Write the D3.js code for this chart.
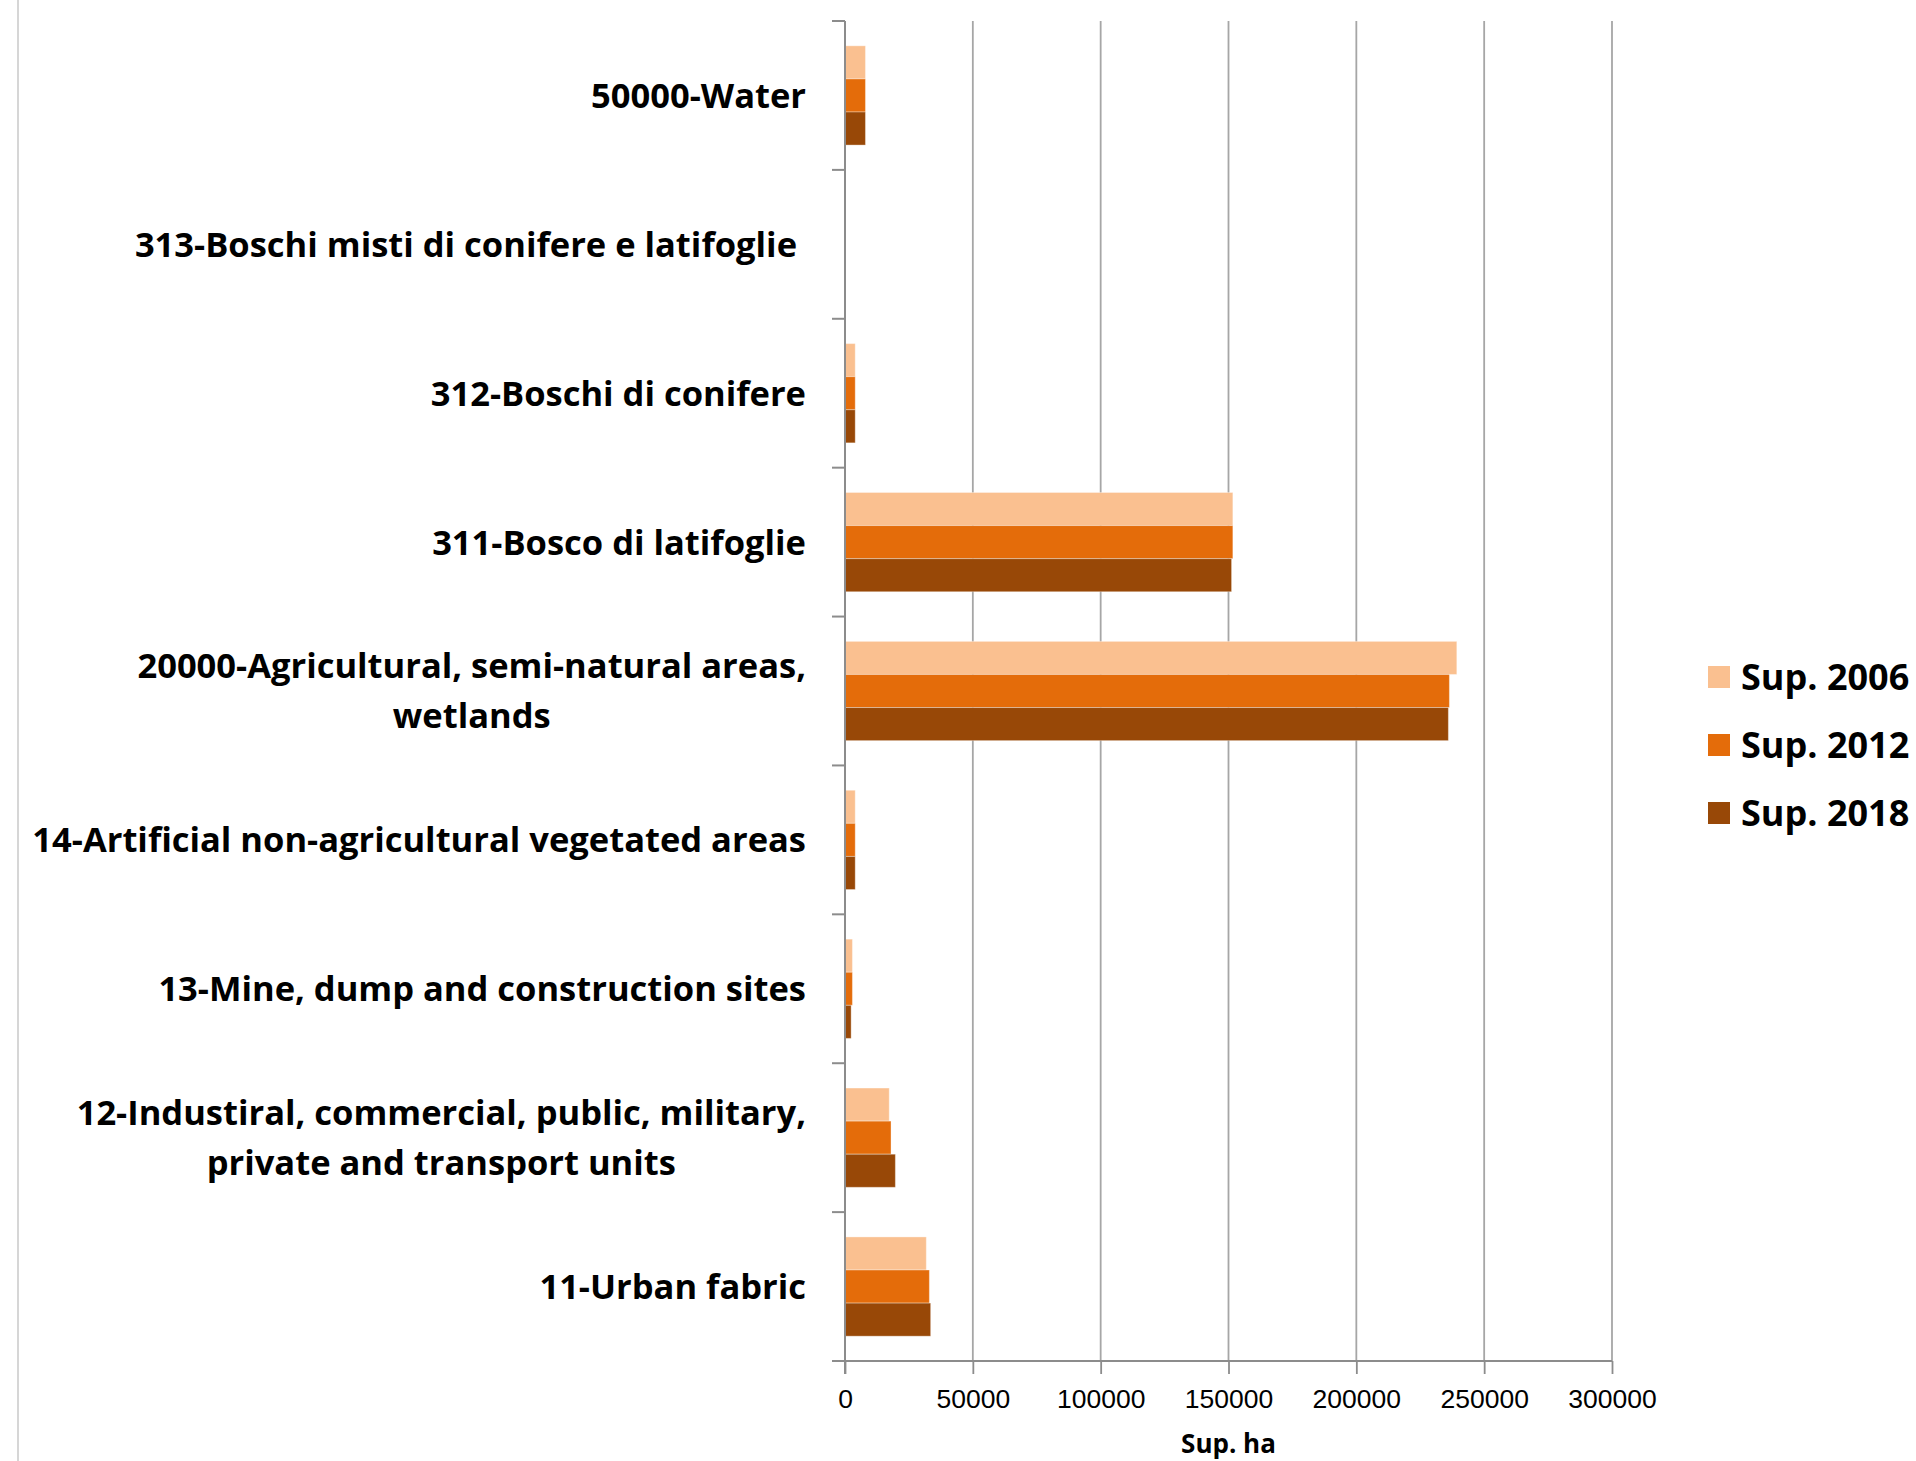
<!DOCTYPE html>
<html>
<head>
<meta charset="utf-8">
<script src="https://cdn.jsdelivr.net/npm/d3@7"></script>
<style>
  body { margin: 0; background: #fff; }
  svg { font-family: "Open Sans", sans-serif; }
</style>
</head>
<body>
<script>
// categories, top to bottom
const categories = [
  "50000-Water",
  "313-Boschi misti di conifere e latifoglie ",
  "312-Boschi di conifere",
  "311-Bosco di latifoglie",
  "20000-Agricultural, semi-natural areas,|wetlands",
  "14-Artificial non-agricultural vegetated areas",
  "13-Mine, dump and construction sites",
  "12-Industiral, commercial, public, military,|private and transport units",
  "11-Urban fabric"
];
const seriesNames = ["Sup. 2006", "Sup. 2012", "Sup. 2018"];
const sup2006 = [8000, 0, 4000, 151700, 239300, 4000, 2900, 17300, 31800];
const sup2012 = [8000, 0, 4000, 151700, 236400, 4000, 2900, 18000, 33000];
const sup2018 = [8000, 0, 4000, 151200, 236000, 4000, 2400, 19700, 33500];
const xTicks = [0, 50000, 100000, 150000, 200000, 250000, 300000];
const colors = ["#FAC090", "#E46C0A", "#984807"];

const w = 1916;
const h = 1461;
const plotLeft = 845, plotRight = 1612, plotTop = 21, plotBottom = 1361;

const data = categories.map((c, i) => ({
  cat: c,
  values: [sup2006[i], sup2012[i], sup2018[i]]
}));

const svg = d3.select("body").append("svg").attr("width", w).attr("height", h);

// left border of the chart area
svg.append("line")
  .attr("x1", 18).attr("x2", 18).attr("y1", 0).attr("y2", h)
  .style("stroke", "#c8c8c8").style("stroke-width", 1.5);

// scales
const xScale = d3.scaleLinear().domain([0, 300000]).range([plotLeft, plotRight]);
const yScale = d3.scaleBand().domain(categories).range([plotTop, plotBottom]).padding(0);
const ySub = d3.scaleBand().domain(seriesNames).range([0, yScale.bandwidth()])
  .paddingInner(0).paddingOuter(0.75);

// gridlines
svg.append("g")
  .selectAll("line")
  .data(xTicks.slice(1))
  .enter()
  .append("line")
  .attr("x1", (d) => xScale(d)).attr("x2", (d) => xScale(d))
  .attr("y1", plotTop).attr("y2", plotBottom)
  .style("stroke", "#a6a6a6").style("stroke-width", 1.8);

// bars
const groups = svg.append("g")
  .selectAll("g")
  .data(data)
  .enter()
  .append("g")
  .attr("transform", (d) => "translate(0," + yScale(d.cat) + ")");

groups.selectAll("rect")
  .data((d) => d.values.map((v, i) => ({ v: v, s: seriesNames[i], i: i })))
  .enter()
  .append("rect")
  .attr("x", xScale(0))
  .attr("y", (d) => ySub(d.s))
  .attr("width", (d) => xScale(d.v) - xScale(0))
  .attr("height", ySub.bandwidth())
  .style("fill", (d) => colors[d.i])
  .style("stroke", "rgba(255,255,255,0.35)")
  .style("stroke-width", 1);

// x axis
const xAxis = d3.axisBottom(xScale)
  .tickValues(xTicks)
  .tickSize(13)
  .tickPadding(15)
  .tickFormat(d3.format("d"));

const gx = svg.append("g")
  .attr("transform", "translate(0," + plotBottom + ")")
  .call(xAxis);
gx.select(".domain").remove();
gx.selectAll(".tick line").style("stroke", "#8c8c8c").style("stroke-width", 1.8);
gx.selectAll(".tick text")
  .style("font-size", "26.5px")
  .style("fill", "#000");

// x axis line (extends left for the category tick)
svg.append("line")
  .attr("x1", plotLeft - 13).attr("x2", plotRight)
  .attr("y1", plotBottom).attr("y2", plotBottom)
  .style("stroke", "#8c8c8c").style("stroke-width", 2);

// y axis line and boundary ticks
svg.append("line")
  .attr("x1", plotLeft).attr("x2", plotLeft)
  .attr("y1", plotTop).attr("y2", plotBottom + 13)
  .style("stroke", "#8c8c8c").style("stroke-width", 2);

const boundaries = categories.map((c) => yScale(c)).concat([plotBottom]);
svg.append("g")
  .selectAll("line")
  .data(boundaries)
  .enter()
  .append("line")
  .attr("x1", plotLeft - 13).attr("x2", plotLeft)
  .attr("y1", (d) => d).attr("y2", (d) => d)
  .style("stroke", "#8c8c8c").style("stroke-width", 2);

// category labels (wrapped lines centred on each other, block right aligned)
const labelRight = 806;
const lineH = 50;
const labels = svg.append("g")
  .selectAll("g")
  .data(categories)
  .enter()
  .append("g")
  .attr("transform", (d) => "translate(0," + (yScale(d) + yScale.bandwidth() / 2) + ")");

labels.each(function (d) {
  const g = d3.select(this);
  const lines = d.split("|");
  const texts = lines.map((line, i) =>
    g.append("text")
      .attr("y", (i - (lines.length - 1) / 2) * lineH)
      .attr("dy", "0.36em")
      .attr("text-anchor", "middle")
      .style("white-space", "pre")
      .style("font-size", "34.5px")
      .style("font-weight", "700")
      .style("fill", "#000")
      .text(line)
  );
  const widest = d3.max(texts, (t) => t.node().getComputedTextLength());
  texts.forEach((t) => t.attr("x", labelRight - widest / 2));
});

// x axis title
svg.append("text")
  .attr("x", (plotLeft + plotRight) / 2)
  .attr("y", 1444)
  .attr("dy", "0.36em")
  .attr("text-anchor", "middle")
  .style("font-size", "26px")
  .style("font-weight", "700")
  .text("Sup. ha");

// legend
const legendShapeSize = 22;
const legendY = [677, 745, 813];
seriesNames.forEach((s, i) => {
  svg.append("rect")
    .attr("x", 1708)
    .attr("y", legendY[i] - legendShapeSize / 2)
    .attr("width", legendShapeSize)
    .attr("height", legendShapeSize)
    .style("fill", colors[i]);
  svg.append("text")
    .attr("x", 1741)
    .attr("y", legendY[i])
    .attr("dy", "0.36em")
    .style("font-size", "36px")
    .style("font-weight", "700")
    .text(s);
});
</script>
</body>
</html>
